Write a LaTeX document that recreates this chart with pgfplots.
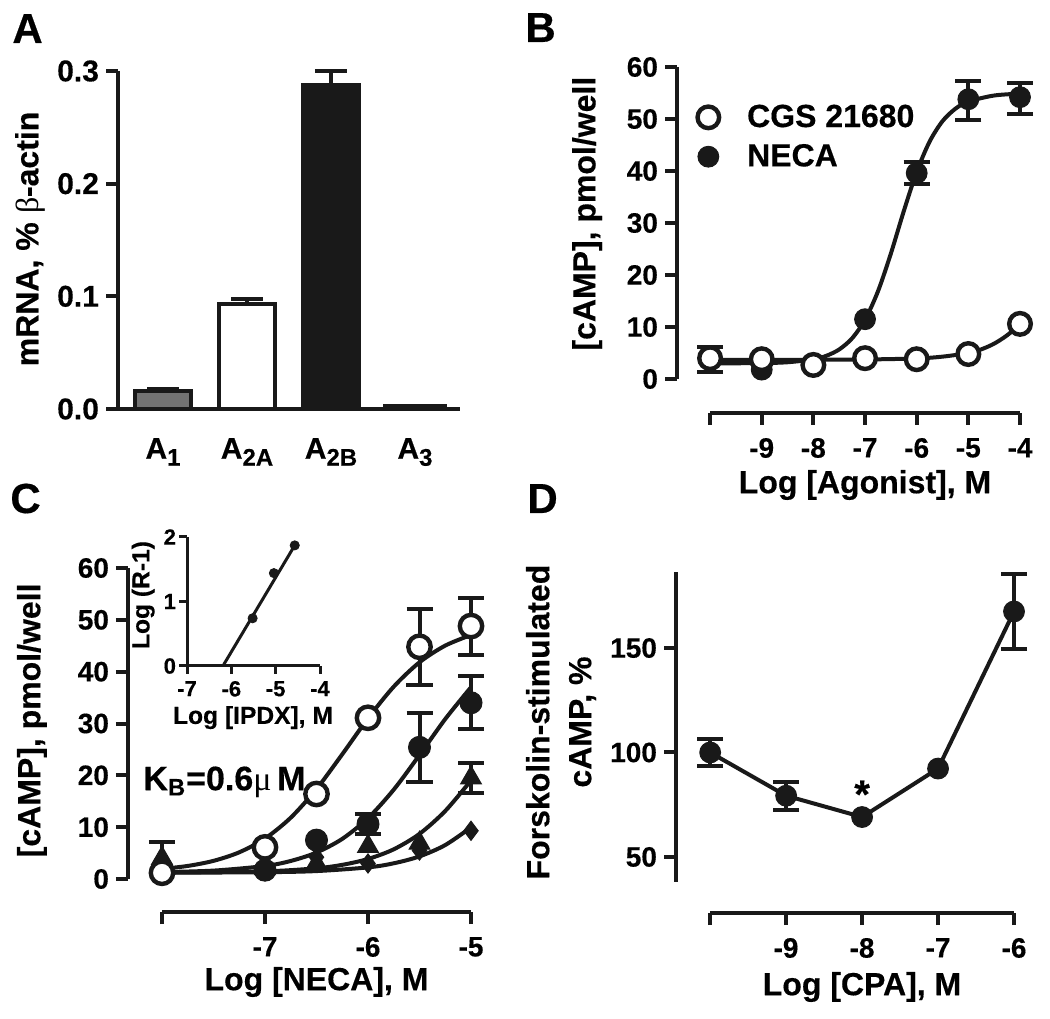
\documentclass[border=0pt]{standalone}
\usepackage{fontspec}
\setmainfont{Liberation Sans}[BoldFeatures={FakeBold=0.4}]
\newfontfamily\symfont{Liberation Serif}
\usepackage{pgfplots}
\pgfplotsset{compat=1.18}
\definecolor{ink}{gray}{0.1}
\newcommand{\tl}{\fontsize{14}{15}\selectfont\bfseries}
\newcommand{\lb}{\fontsize{16}{19}\selectfont\bfseries}
\newcommand{\itl}{\fontsize{11}{12}\selectfont\bfseries}
\newcommand{\ilb}{\fontsize{12.3}{14}\selectfont\bfseries}
\newcommand{\sub}[1]{\raisebox{-3.5pt}{\fontsize{12}{12}\selectfont#1}}
\pgfplotsset{
  gp/.style={scale only axis, clip=false, tick align=outside,
    axis line style={line width=2pt, ink}, tick style={line width=2pt, ink},
    major tick length=6pt, tick label style={font=\tl, text=black},
    label style={font=\lb}, /pgf/number format/assume math mode=true},
  xonly/.style={gp, height=10pt, ymin=0, ymax=1, axis x line*=bottom, axis y line=none,
    xticklabel style={yshift=-3pt}},
  errs/.style={only marks, mark=none, ink, forget plot,
    error bars/.cd, y dir=both, y explicit, error mark=|,
    error bar style={line width=2pt, ink},
    error mark options={line width=2pt, ink, mark size=#1}, /pgfplots/.cd},
  fit/.style={ink, line width=2pt, smooth, forget plot},
  bar/.style={ybar, bar width=28pt, bar shift=0pt, draw=ink, line width=2pt,
    error bars/.cd, y dir=plus, y explicit, error mark=|,
    error bar style={line width=2pt, ink},
    error mark options={line width=2pt, ink, mark size=8pt}, /pgfplots/.cd},
}

\begin{document}
\begin{tikzpicture}
\useasboundingbox (0,0) rectangle (525pt,509pt);

% panel letters
\node[anchor=base west, inner sep=0, font=\fontsize{21}{21}\selectfont\bfseries] at (6pt,487.5pt) {A};
\node[anchor=base west, inner sep=0, font=\fontsize{21}{21}\selectfont\bfseries] at (262.5pt,488pt) {B};
\node[anchor=base west, inner sep=0, font=\fontsize{21}{21}\selectfont\bfseries] at (5pt,252.5pt) {C};
\node[anchor=base west, inner sep=0, font=\fontsize{21}{21}\selectfont\bfseries] at (263.5pt,252.5pt) {D};

% ---------- A: mRNA bars
\begin{axis}[gp, at={(59pt,304.5pt)}, anchor=south west, width=171pt, height=169pt,
  xmin=-0.536, xmax=3.536, ymin=0, ymax=0.3, axis lines*=left,
  tick label style={font=\fontsize{15}{16}\selectfont\bfseries},
  ytick={0,0.1,0.2,0.3}, yticklabels={0.0,0.1,0.2,0.3},
  xtick={0,1,2,3}, x tick style={draw=none},
  xticklabels={A\sub{1},A\sub{2A},A\sub{2B},A\sub{3}},
  xticklabel style={yshift=-5pt},
  ylabel={mRNA, \% {\symfont\mdseries β}-actin},
  ylabel style={at={(axis description cs:-0.257,0.503)}, anchor=center}]
\addplot[bar, fill=black!55] coordinates {(0,0.016) +- (0,0.002)};
\addplot[bar, fill=white] coordinates {(1,0.093) +- (0,0.005)};
\addplot[bar, fill=ink] coordinates {(2,0.288) +- (0,0.012)};
\addplot[ybar, bar width=31pt, bar shift=0pt, draw=ink, line width=0.8pt, fill=ink]
  coordinates {(3,0.004)};
\end{axis}

% ---------- B: agonist curves
\begin{axis}[gp, at={(338.5pt,319.5pt)}, anchor=south west, width=171.5pt, height=156pt,
  xmin=-10.64, xmax=-4, ymin=0, ymax=60, axis y line*=left, axis x line=none,
  ytick={0,10,...,60}, yticklabels={0,10,20,30,40,50,60},
  ylabel={[cAMP], pmol/well},
  ylabel style={at={(axis description cs:-0.262,0.53)}, anchor=center},
  reverse legend, legend cell align=left,
  legend style={at={(axis cs:-10.25,53.6)}, anchor=north west, draw=none, fill=none,
    font=\lb, inner sep=0pt, row sep=3pt,
    /tikz/every odd column/.append style={column sep=12pt}},
  legend image code/.code={\draw[#1] plot coordinates {(0.2cm,0cm)};}]
\addplot[fit] coordinates {(-10,3.0) (-9,3.06) (-8.5,3.22) (-8,3.78) (-7.75,4.46)
  (-7.5,5.68) (-7.25,7.83) (-7,11.4) (-6.75,16.85) (-6.5,24.12) (-6.25,32.28)
  (-6,39.83) (-5.75,45.66) (-5.5,49.59) (-5.25,51.98) (-5,53.35) (-4.5,54.52) (-4,54.87)};
\addplot[fit] coordinates {(-10,3.7) (-9,3.7) (-8,3.7) (-7,3.75) (-6,3.95) (-5.5,4.3)
  (-5,5.0) (-4.75,5.7) (-4.5,6.8) (-4.25,8.4) (-4,10.5)};
\addplot[errs=6.5pt] coordinates {(-10,3.8) +- (0,2.4) (-6,39.6) +- (0,2.1)
  (-5,53.6) +- (0,3.7) (-4,54.0) +- (0,3.0)};
\addplot[only marks, mark=*, mark size=5.2pt, ink, mark options={fill=ink, line width=0.5pt}]
  coordinates {(-10,3.8) (-9,1.8) (-8,3.0) (-7,11.5) (-6,39.6) (-5,53.8) (-4,54.2)};
\addlegendentry{NECA}
\addplot[only marks, mark=*, mark size=5.4pt, ink, mark options={fill=white, line width=2.2pt}]
  coordinates {(-10,4.0) (-9,3.8) (-8,2.7) (-7,4.0) (-6,3.8) (-5,4.8) (-4,10.6)};
\addlegendentry{CGS 21680}
\end{axis}
\begin{axis}[xonly, at={(355pt,302.5pt)}, anchor=south west, width=155pt,
  xmin=-10, xmax=-4, xtick={-10,...,-4}, xticklabels={,-9,-8,-7,-6,-5,-4},
  xlabel={Log [Agonist], M},
  xlabel style={at={(axis description cs:0.5,0)}, anchor=center, yshift=-36pt}]
\end{axis}

% ---------- C: NECA with IPDX
\begin{axis}[gp, at={(64pt,69.5pt)}, anchor=south west, width=171.5pt, height=155.5pt,
  xmin=-8.33, xmax=-5, ymin=0, ymax=60, axis y line*=left, axis x line=none,
  ytick={0,10,...,60}, yticklabels={0,10,20,30,40,50,60},
  ylabel={[cAMP], pmol/well},
  ylabel style={at={(axis description cs:-0.28,0.51)}, anchor=center}]
\addplot[fit] coordinates {(-8,1.95) (-7.75,2.52) (-7.5,3.5) (-7.25,5.15) (-7,7.81)
  (-6.75,11.83) (-6.5,17.37) (-6.25,24.06) (-6,30.99) (-5.75,37.11) (-5.5,41.81)
  (-5.25,45.03) (-5,47.07)};
\addplot[fit] coordinates {(-8,1.33) (-7.5,1.62) (-7,2.51) (-6.75,3.48) (-6.5,5.11)
  (-6.25,7.74) (-6,11.74) (-5.75,17.24) (-5.5,23.92) (-5.25,30.86) (-5,37.0)};
\addplot[fit] coordinates {(-8,1.23) (-7,1.48) (-6.5,2.07) (-6.25,2.73) (-6,3.86)
  (-5.75,5.73) (-5.5,8.71) (-5.25,13.13) (-5,19.02)};
\addplot[fit] coordinates {(-8,1.2) (-7,1.31) (-6.5,1.53) (-6,2.24) (-5.75,3.03)
  (-5.5,4.36) (-5.25,6.55) (-5,9.96)};
\addplot[only marks, mark=diamond*, mark size=4.8pt, ink, mark options={fill=ink, line width=0.5pt}]
  coordinates {(-8,1.0) (-7,1.6) (-6.5,4.2) (-6,3.0) (-5.5,5.5) (-5,9.3)};
\addplot[errs=6.5pt] coordinates {(-8,4.0) +- (0,3.1) (-5,19.5) +- (0,2.9)};
\addplot[only marks, mark=triangle*, mark size=6pt, ink, mark options={fill=ink, line width=0.5pt}]
  coordinates {(-8,4.0) (-7,2.0) (-6.5,3.0) (-6,6.3) (-5.5,6.9) (-5,19.5)};
\addplot[errs=6.5pt] coordinates {(-6,10.6) +- (0,1.9) (-5.5,25.4) +- (0,6.6) (-5,34.0) +- (0,5.1)};
\addplot[only marks, mark=*, mark size=5.5pt, ink, mark options={fill=ink, line width=0.5pt}]
  coordinates {(-8,1.5) (-7,1.7) (-6.5,7.5) (-6,10.6) (-5.5,25.4) (-5,34.0)};
\addplot[errs=6.5pt] coordinates {(-5.5,44.8) +- (0,7.3) (-5,48.8) +- (0,5.5)};
\addplot[only marks, mark=*, mark size=5.6pt, ink, mark options={fill=white, line width=2.2pt}]
  coordinates {(-8,1.2) (-7,6.1) (-6.5,16.4) (-6,31.1) (-5.5,44.8) (-5,48.8)};
\end{axis}
\begin{axis}[xonly, at={(81pt,53pt)}, anchor=south west, width=154.5pt,
  xmin=-8, xmax=-5, xtick={-8,-7,-6,-5}, xticklabels={,-7,-6,-5},
  xlabel={Log [NECA], M},
  xlabel style={at={(axis description cs:0.5,0)}, anchor=center, yshift=-35pt}]
\end{axis}
% inset: Schild plot
\begin{axis}[gp, at={(93.5pt,176pt)}, anchor=south west, width=66.5pt, height=64.5pt,
  xmin=-7, xmax=-4, ymin=0, ymax=2, axis lines*=left,
  axis line style={line width=1.5pt, ink}, tick style={line width=1.5pt, ink},
  major tick length=4pt, tick label style={font=\itl},
  xtick={-7,-6,-5,-4}, xticklabels={-7,-6,-5,-4},
  ytick={0,1,2}, yticklabels={0,1,2},
  yticklabel style={xshift=2pt},
  xlabel={Log [IPDX], M}, ylabel={Log (R-1)},
  label style={font=\ilb},
  xlabel style={at={(axis description cs:0.496,-0.40)}, anchor=center},
  ylabel style={at={(axis description cs:-0.33,0.55)}, anchor=center}]
\addplot[ink, line width=1.5pt] coordinates {(-6.19,0) (-4.57,1.87)};
\addplot[only marks, mark=*, mark size=2.3pt, ink, mark options={fill=ink}]
  coordinates {(-5.52,0.74) (-5.04,1.44) (-4.57,1.87)};
\end{axis}
\node[anchor=west, inner sep=0, font=\fontsize{17}{17}\selectfont\bfseries]
  at (71.5pt,118pt) {K\textsubscript{B}=0.6{\symfont\mdseries μ}\,M};

% ---------- D: CPA
\begin{axis}[gp, at={(338pt,68pt)}, anchor=south west, width=169pt, height=155pt,
  xmin=-10.45, xmax=-6, ymin=38, ymax=186.4, axis y line*=left, axis x line=none,
  ytick={50,100,150}, yticklabels={50,100,150},
  ylabel={Forskolin-stimulated\\cAMP, \%},
  ylabel style={align=center, font=\fontsize{16}{21}\selectfont\bfseries,
    at={(axis description cs:-0.34,0.516)}, anchor=center}]
\addplot[errs=6.5pt] coordinates {(-10,100) +- (0,6.5) (-9,79.3) +- (0,6.7) (-6,167.5) +- (0,18)};
\addplot[ink, line width=2pt, mark=*, mark size=5.2pt, mark options={fill=ink, line width=0.5pt}]
  coordinates {(-10,100) (-9,79.3) (-8,69.1) (-7,92.3) (-6,167.5)};
\node[font=\fontsize{20}{20}\selectfont\bfseries] at (axis cs:-8,80) {*};
\end{axis}
\begin{axis}[xonly, at={(355pt,52.5pt)}, anchor=south west, width=152pt,
  xmin=-10, xmax=-6, xtick={-10,...,-6}, xticklabels={,-9,-8,-7,-6},
  xlabel={Log [CPA], M},
  xlabel style={at={(axis description cs:0.5,0)}, anchor=center, yshift=-37pt}]
\end{axis}
\end{tikzpicture}
\end{document}
